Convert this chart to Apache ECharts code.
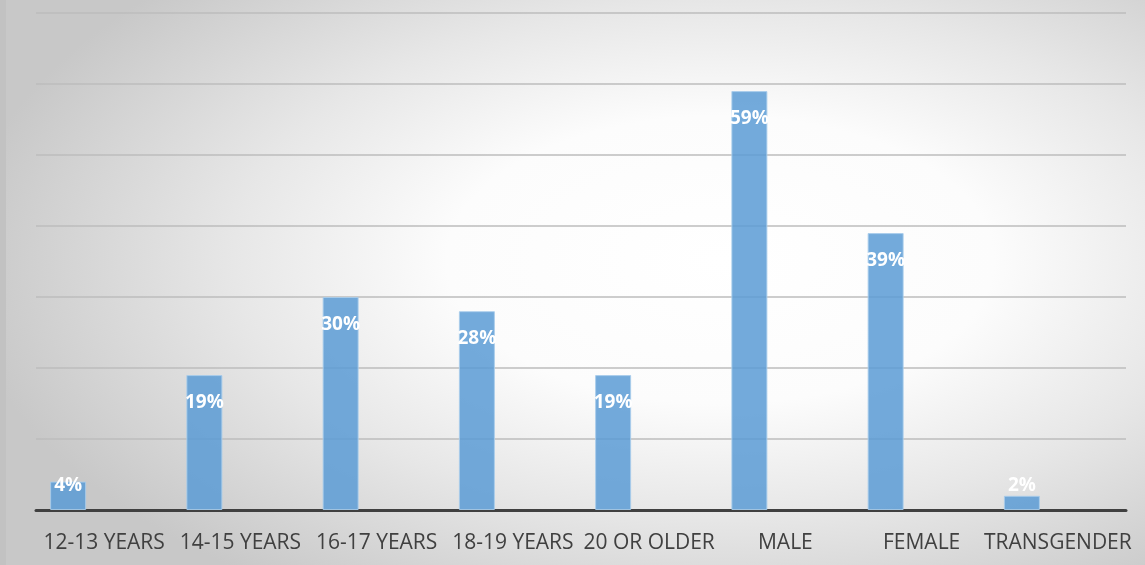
<!DOCTYPE html>
<html>
<head>
<meta charset="utf-8">
<script src="https://cdn.jsdelivr.net/npm/echarts@6/dist/echarts.min.js"></script>
<style>
  html, body { margin: 0; padding: 0; }
  #chart { width: 1145px; height: 565px; }
</style>
</head>
<body>
<div id="chart"></div>
<script>
// Survey respondents by age group and gender (percent)
const categories = ['12-13 YEARS', '14-15 YEARS', '16-17 YEARS', '18-19 YEARS', '20 OR OLDER', 'MALE', 'FEMALE', 'TRANSGENDER'];
const shares = [4, 19, 30, 28, 19, 59, 39, 2];
const yTicks = [0, 10, 20, 30, 40, 50, 60, 70];

// Short bars carry their label near the baseline, the rest just inside the top
const barData = shares.map(v => ({
  value: v,
  label: v < 5
    ? { position: 'insideBottom', distance: 15 }
    : { position: 'insideTop', distance: 18 }
}));

// Elliptical glow behind the plot: a square radial fill squashed vertically
const glow = { cx: 720, cy: 260, rx: 760, ry: 400 };

const chart = echarts.init(document.getElementById('chart'), null, { renderer: 'canvas' });

chart.setOption({
  animation: false,
  backgroundColor: '#c8c8c8',
  graphic: [
    {
      type: 'rect',
      z: -10,
      silent: true,
      x: glow.cx - glow.rx,
      y: glow.cy - glow.ry,
      scaleY: glow.ry / glow.rx,
      shape: { x: 0, y: 0, width: glow.rx * 2, height: glow.rx * 2 },
      style: {
        fill: {
          type: 'radial', x: 0.5, y: 0.5, r: 0.5,
          colorStops: [
            { offset: 0, color: '#ffffff' },
            { offset: 0.36, color: '#fcfcfc' },
            { offset: 0.64, color: '#e7e7e7' },
            { offset: 0.86, color: '#d4d4d4' },
            { offset: 1, color: '#c8c8c8' }
          ]
        }
      }
    },
    {
      type: 'rect', z: -9, silent: true,
      left: 0, top: 0, shape: { width: 6, height: 565 },
      style: { fill: '#c2c2c2' }
    }
  ],
  grid: { left: 36, right: 19, top: 13, bottom: 55, containLabel: false },
  xAxis: {
    type: 'category',
    data: categories,
    axisLine: { show: true, lineStyle: { color: '#404040', width: 3 } },
    axisTick: { show: false },
    axisLabel: {
      color: '#404040', fontFamily: 'Open Sans', fontSize: 21, margin: 23,
      interval: 0
    }
  },
  yAxis: {
    type: 'value',
    min: yTicks[0], max: yTicks[yTicks.length - 1], interval: 10,
    axisLine: { show: false },
    axisTick: { show: false },
    axisLabel: { show: false },
    splitLine: { lineStyle: { color: '#bdbdbd', width: 1.5 } }
  },
  series: [
    {
      name: 'Share',
      type: 'bar',
      data: barData,
      barWidth: 36,
      barGap: '100%',
      itemStyle: {
        color: 'rgba(91,155,213,0.85)',
        borderColor: 'rgba(170,205,235,0.9)',
        borderWidth: 1
      },
      label: {
        show: true,
        color: '#ffffff',
        fontFamily: 'Open Sans',
        fontWeight: 'bold',
        fontSize: 19,
        formatter: p => p.value + '%'
      }
    },
    {
      name: 'Spacer',
      type: 'bar',
      data: shares.map(() => null),
      barWidth: 36,
      silent: true
    }
  ]
});
</script>
</body>
</html>
